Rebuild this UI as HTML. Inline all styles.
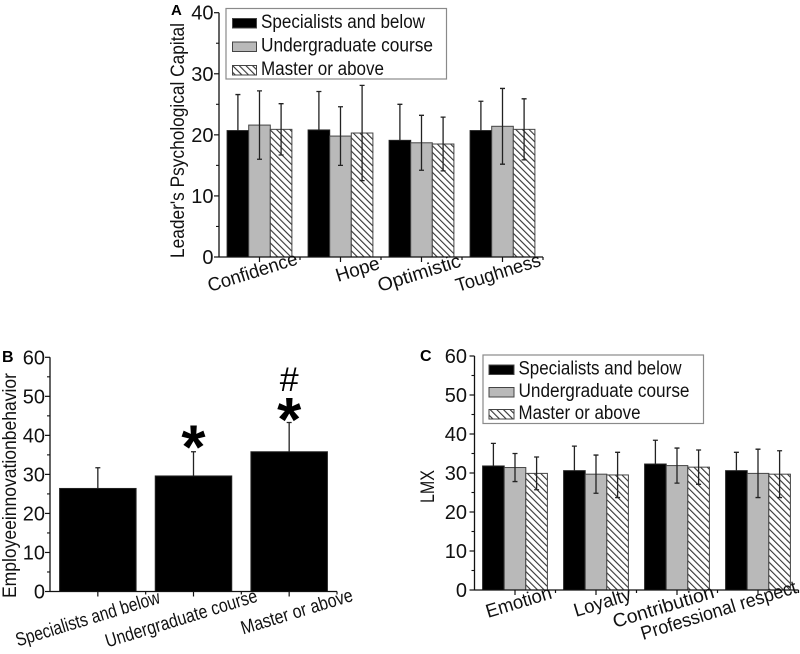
<!DOCTYPE html>
<html lang="en">
<head>
<meta charset="utf-8">
<title>Leader's Psychological Capital, Employee Innovation Behavior and LMX</title>
<style>
html,body{margin:0;padding:0;background:#fff;width:800px;height:654px;overflow:hidden}
svg{display:block;font-family:"Liberation Sans",sans-serif;fill:#111;filter:blur(0.35px)}
</style>
</head>
<body>
<svg id="figure" width="800" height="654" viewBox="0 0 800 654" xmlns="http://www.w3.org/2000/svg">
<defs>
<pattern id="hatch" patternUnits="userSpaceOnUse" width="4.7" height="4.7" patternTransform="rotate(-45)">
<rect width="4.7" height="4.7" fill="#fff"/>
<rect x="0" y="0" width="1.1" height="4.7" fill="#333"/>
</pattern>
</defs>
</svg>
<script>
const seriesNames = ['Specialists and below', 'Undergraduate course', 'Master or above'];

const capitalCategories = ['Confidence', 'Hope', 'Optimistic', 'Toughness'];
const capitalSpecialists = [20.7, 20.8, 19.1, 20.7];
const capitalUndergraduate = [21.6, 19.8, 18.7, 21.4];
const capitalMaster = [20.9, 20.3, 18.5, 20.9];
const capitalSpecialistsErr = [5.9, 6.3, 5.9, 4.8];
const capitalUndergraduateErr = [5.6, 4.8, 4.5, 6.2];
const capitalMasterErr = [4.2, 7.8, 4.4, 5.0];
const capitalTicks = [0, 10, 20, 30, 40];

const innovationCategories = ['Specialists and below', 'Undergraduate course', 'Master or above'];
const innovationValues = [26.4, 29.6, 35.8];
const innovationErr = [5.3, 6.2, 7.5];
const innovationTicks = [0, 10, 20, 30, 40, 50, 60];

const lmxCategories = ['Emotion', 'Loyalty', 'Contribution', 'Professional respect'];
const lmxSpecialists = [31.8, 30.6, 32.3, 30.6];
const lmxUndergraduate = [31.4, 29.7, 31.9, 29.9];
const lmxMaster = [29.9, 29.5, 31.5, 29.7];
const lmxSpecialistsErr = [5.8, 6.3, 6.1, 4.7];
const lmxUndergraduateErr = [3.6, 4.9, 4.5, 6.2];
const lmxMasterErr = [4.2, 5.8, 4.4, 6.0];
const lmxTicks = [0, 10, 20, 30, 40, 50, 60];

const svg = document.getElementById('figure');
const NS = 'http://www.w3.org/2000/svg';

function mk(tag, attrs, parent, text) {
  const el = document.createElementNS(NS, tag);
  for (const k in attrs) el.setAttribute(k, attrs[k]);
  if (text !== undefined) el.textContent = text;
  parent.appendChild(el);
  return el;
}

const seriesFills = ['#000', '#b9b9b9', 'url(#hatch)'];

function slug(s) {
  return s.toLowerCase().replace(/[^a-z0-9]+/g, '-');
}

function drawChart(cfg) {
  const g = mk('g', {}, svg);
  
  

  const xStep = (cfg.x1 - cfg.x0) / cfg.categories.length;
  const maxTick = cfg.ticks[cfg.ticks.length - 1];
  const xScale = i => cfg.x0 + xStep * (i + 0.5);
  const yScale = v => cfg.y0 + (cfg.yTop - cfg.y0) * v / maxTick;

  cfg.series.forEach((vals, s) => {
    const n = cfg.series.length;
    vals.forEach((v, i) => {
      const bx = xScale(i) - cfg.barW * n / 2 + s * cfg.barW;
      const bar = mk('rect', {
        x: bx, y: yScale(v), width: cfg.barW, height: cfg.y0 - yScale(v),
        fill: n === 1 ? '#000' : seriesFills[s],
        stroke: s === 0 ? '#222' : '#444', 'stroke-width': 1
      }, g);
      
      
    });
  });

  cfg.series.forEach((vals, s) => {
    const n = cfg.series.length;
    const upOnly = cfg.upOnly || s === 0;
    vals.forEach((v, i) => {
      const cx = xScale(i) - cfg.barW * n / 2 + (s + 0.5) * cfg.barW;
      const e = cfg.errors[s][i];
      const topY = yScale(v + e);
      const lowY = upOnly ? yScale(v) : yScale(v - e);
      const eb = mk('path', {
        d: 'M' + cx + ' ' + lowY + 'V' + topY + 'M' + (cx - 2.5) + ' ' + topY + 'H' + (cx + 2.5) +
           (upOnly ? '' : 'M' + (cx - 2.5) + ' ' + lowY + 'H' + (cx + 2.5)),
        stroke: '#222', 'stroke-width': 1.3, fill: 'none'
      }, g);
      
      
    });
  });

  const axisY = mk('path', {
    d: 'M' + cfg.x0 + ' ' + cfg.yTop + 'V' + cfg.y0, stroke: '#111', 'stroke-width': 1.3, fill: 'none'
  }, g);
  
  

  const axisX = mk('path', {
    d: 'M' + cfg.x0 + ' ' + cfg.y0 + 'H' + cfg.x1, stroke: '#111', 'stroke-width': 1.3, fill: 'none'
  }, g);
  
  

  cfg.ticks.forEach((t, i) => {
    const y = yScale(t);
    const tick = mk('path', {
      d: 'M' + cfg.x0 + ' ' + y + 'h-5', stroke: '#111', 'stroke-width': 1.2
    }, g);
    
    
    if (i > 0) {
      const minor = mk('path', {
        d: 'M' + cfg.x0 + ' ' + yScale(t - (t - cfg.ticks[i - 1]) / 2) + 'h-3', stroke: '#111', 'stroke-width': 1.1
      }, g);
      
      
    }
    const lab = mk('text', {
      x: cfg.tickLabelX, y: y + 7, 'text-anchor': 'end', 'font-size': 20
    }, g, String(t));
    
    
  });

  cfg.categories.forEach((c, i) => {
    const cx = xScale(i);
    const tick = mk('path', {
      d: 'M' + cx + ' ' + cfg.y0 + 'v5M' + (cx + xStep / 2) + ' ' + cfg.y0 + 'v3',
      stroke: '#111', 'stroke-width': 1.2
    }, g);
    
    

    const o = cfg.labelLayout[i];
    const lab = mk('text', {
      x: 0, y: 0, 'font-size': cfg.labelSize, textLength: o[2], lengthAdjust: 'spacingAndGlyphs',
      transform: 'translate(' + (cx + o[0]) + ' ' + (cfg.y0 + o[1]) + ') rotate(' + cfg.labelAngle + ')'
    }, g, c);
    
    
  });

  const title = mk('text', {
    x: 0, y: 0, 'font-size': cfg.titleSize, textLength: cfg.titleLen, lengthAdjust: 'spacingAndGlyphs',
    transform: 'translate(' + cfg.titleX + ' ' + cfg.titleY + ') rotate(-90)'
  }, g, cfg.title);
  
  

  const panel = mk('text', {
    x: cfg.panelX, y: cfg.panelY, 'font-size': cfg.panelSize, 'font-weight': 'bold', fill: '#000'
  }, g, cfg.panel);
  
  

  if (cfg.legend) {
    const L = cfg.legend;
    const lg = mk('g', {}, g);
    
    
    const box = mk('rect', {
      x: L.x, y: L.y, width: L.w, height: L.h, fill: '#fff', stroke: '#8a8a8a', 'stroke-width': 1.2
    }, lg);
    
    
    seriesNames.forEach((nm, s) => {
      const sw = mk('rect', {
        x: L.swX, y: L.rows[s] - 9, width: L.swW, height: 9.5,
        fill: seriesFills[s], stroke: '#444', 'stroke-width': 1
      }, lg);
      
      
      const tx = mk('text', {
        x: L.textX, y: L.rows[s] + 0.5, 'font-size': 19, textLength: L.lens[s], lengthAdjust: 'spacingAndGlyphs'
      }, lg, nm);
      
      
    });
  }
  return { xScale, yScale, g };
}

drawChart({
  name: 'psychological-capital-chart', panel: 'A', panelX: 171, panelY: 15, panelSize: 15,
  categories: capitalCategories,
  series: [capitalSpecialists, capitalUndergraduate, capitalMaster],
  errors: [capitalSpecialistsErr, capitalUndergraduateErr, capitalMasterErr],
  ticks: capitalTicks,
  x0: 219, x1: 543, y0: 257, yTop: 12.7, barW: 21.6, tickLabelX: 213.5,
  title: "Leader's Psychological Capital", titleX: 184, titleY: 258, titleSize: 19, titleLen: 235,
  labelSize: 19, labelAngle: -17.5,
  labelLayout: [[-49.5, 35, 93], [-2.5, 25, 45], [-41.5, 35, 86], [-44.5, 35, 88]],
  legend: { x: 226, y: 8.5, w: 220.5, h: 70.5, swX: 232.5, swW: 24, textX: 261,
            rows: [27.5, 51, 74.5], lens: [164, 172, 123] }
});

const chartB = drawChart({
  name: 'employee-innovation-chart', panel: 'B', panelX: 2, panelY: 362, panelSize: 16,
  categories: innovationCategories,
  series: [innovationValues],
  errors: [innovationErr],
  upOnly: true,
  ticks: innovationTicks,
  x0: 50, x1: 337, y0: 591.5, yTop: 357.3, barW: 76.5, tickLabelX: 45,
  title: 'Employeeinnovationbehavior', titleX: 16, titleY: 598, titleSize: 19, titleLen: 225,
  labelSize: 19, labelAngle: -17,
  labelLayout: [[-80, 55, 150], [-86, 56, 158], [-46, 43, 116]]
});

function addMark(text, cat, offset, size, weight, name) {
  const top = innovationValues[cat] + innovationErr[cat];
  const el = mk('text', {
    x: chartB.xScale(cat), y: chartB.yScale(top) + offset,
    'text-anchor': 'middle', 'font-size': size, 'font-weight': weight, fill: '#000'
  }, chartB.g, text);
  
  
}
addMark('*', 1, 16.5, 62, 'bold', 'significance-star-undergraduate');
addMark('*', 2, 18.5, 62, 'bold', 'significance-star-master');
addMark('#', 2, -31.5, 34, 'normal', 'significance-hash-master');

drawChart({
  name: 'lmx-chart', panel: 'C', panelX: 420, panelY: 361, panelSize: 16,
  categories: lmxCategories,
  series: [lmxSpecialists, lmxUndergraduate, lmxMaster],
  errors: [lmxSpecialistsErr, lmxUndergraduateErr, lmxMasterErr],
  ticks: lmxTicks,
  x0: 474.5, x1: 798.5, y0: 590, yTop: 356, barW: 21.6, tickLabelX: 467,
  title: 'LMX', titleX: 434, titleY: 503, titleSize: 19, titleLen: 33,
  labelSize: 19, labelAngle: -17,
  labelLayout: [[-27, 28, 68], [-20, 27, 59], [-62, 38, 105], [-115, 50, 162]],
  legend: { x: 483, y: 355, w: 220.5, h: 68.5, swX: 489, swW: 25, textX: 518.5,
            rows: [374, 396.5, 418.5], lens: [163, 171, 122] }
});
</script>
</body>
</html>
